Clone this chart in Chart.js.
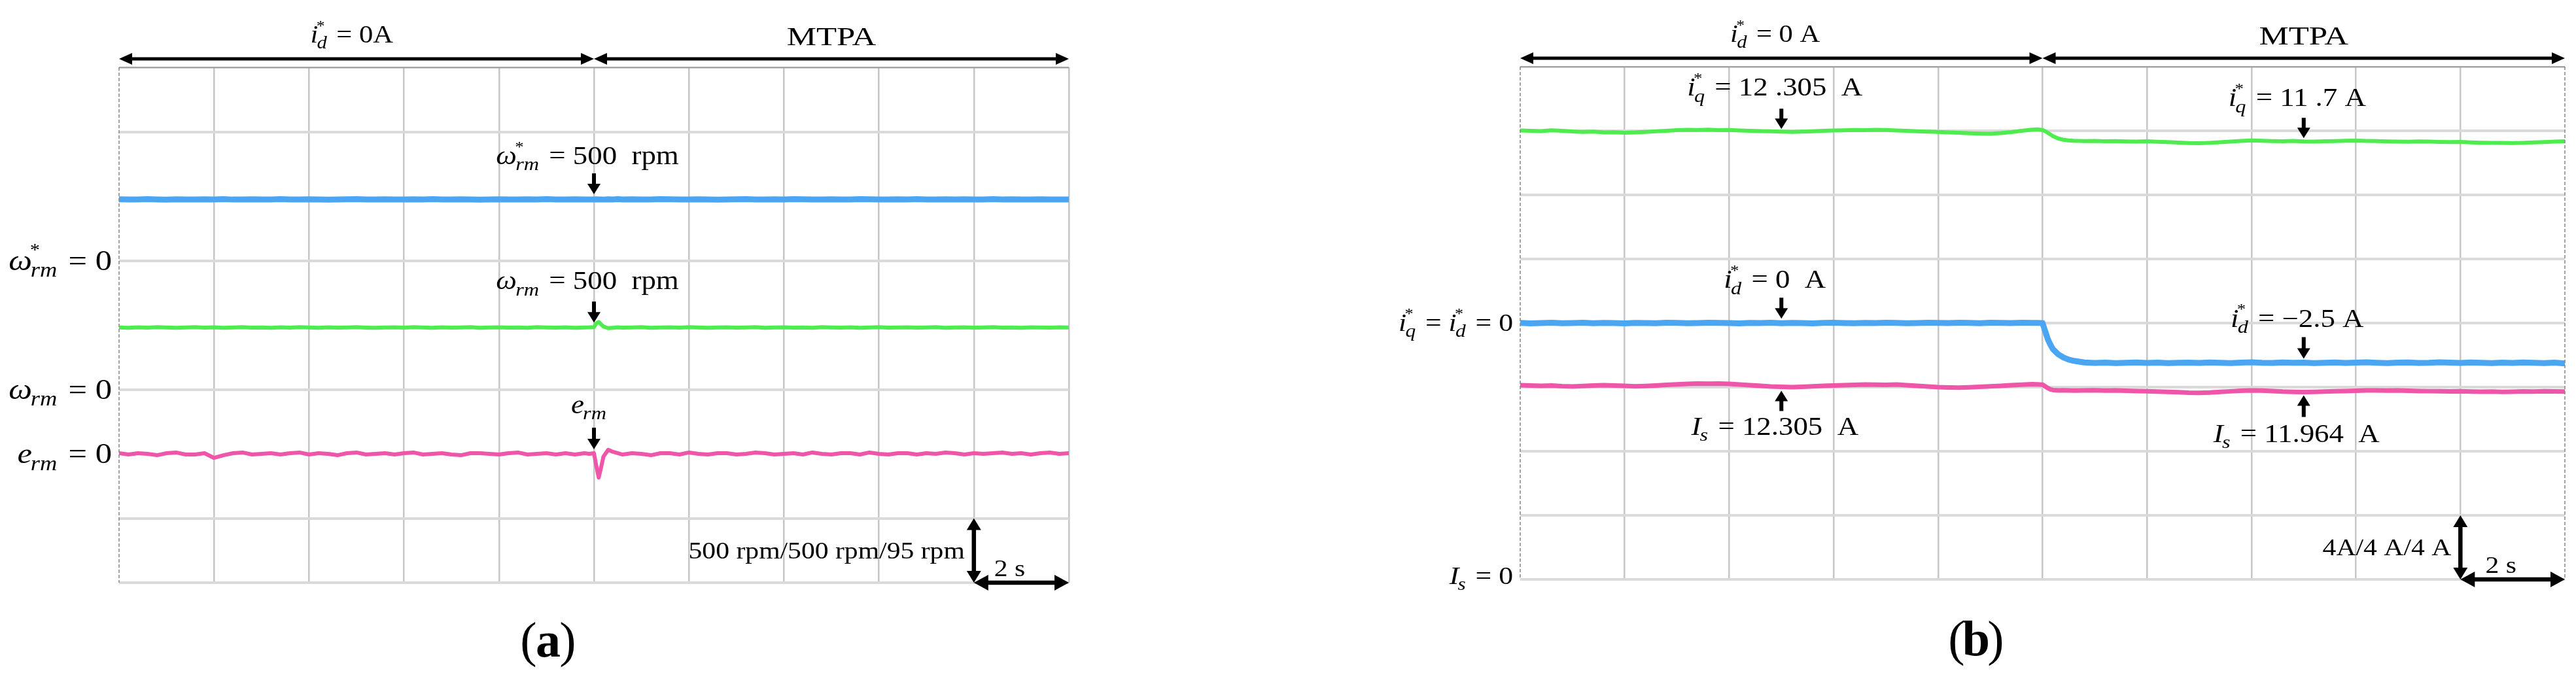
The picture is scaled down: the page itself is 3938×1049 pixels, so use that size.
<!DOCTYPE html>
<html>
<head>
<meta charset="utf-8">
<title>id* = 0 vs MTPA: speed and current traces</title>
<script src="https://cdn.jsdelivr.net/npm/chart.js@4.4.1/dist/chart.umd.min.js"></script>
<style>
  body { margin: 0; background: #fff; }
  #wrap { position: relative; width: 3938px; height: 1049px; overflow: hidden; }
  canvas { position: absolute; left: 0; top: 0; }
</style>
</head>
<body>
<div id="wrap">
  <canvas id="chartA" width="3938" height="1049"></canvas>
  <canvas id="chartB" width="3938" height="1049"></canvas>
</div>
<script>
// time base (s), scope set to 2 s/div, mode switch at 10 s
var t = [
  0, 0.2, 0.4, 0.6, 0.8, 1, 1.2, 1.4, 1.6, 1.8,
  2, 2.2, 2.4, 2.6, 2.8, 3, 3.2, 3.4, 3.6, 3.8,
  4, 4.2, 4.4, 4.6, 4.8, 5, 5.2, 5.4, 5.6, 5.8,
  6, 6.2, 6.4, 6.6, 6.8, 7, 7.2, 7.4, 7.6, 7.8,
  8, 8.2, 8.4, 8.6, 8.8, 9, 9.2, 9.4, 9.6, 9.8,
  9.9, 10, 10.05, 10.1, 10.15, 10.2, 10.3, 10.4, 10.5, 10.6,
  10.8, 11, 11.2, 11.4, 11.6, 11.8, 12, 12.2, 12.4, 12.6,
  12.8, 13, 13.2, 13.4, 13.6, 13.8, 14, 14.2, 14.4, 14.6,
  14.8, 15, 15.2, 15.4, 15.6, 15.8, 16, 16.2, 16.4, 16.6,
  16.8, 17, 17.2, 17.4, 17.6, 17.8, 18, 18.2, 18.4, 18.6,
  18.8, 19, 19.2, 19.4, 19.6, 19.8, 20
];

// (a) speed reference, rpm
var speedRef = [
  476, 474, 475, 477, 475, 473, 476, 475, 474, 476,
  475, 477, 474, 475, 476, 474, 475, 477, 475, 474,
  476, 475, 473, 475, 476, 477, 475, 474, 476, 475,
  474, 476, 475, 477, 475, 474, 476, 475, 473, 475,
  476, 475, 474, 476, 475, 477, 475, 474, 476, 475,
  475, 474, 476, 475, 475, 474, 476, 475, 477, 475,
  476, 474, 475, 477, 476, 474, 475, 476, 475, 473,
  475, 476, 477, 475, 474, 476, 475, 477, 476, 474,
  475, 476, 474, 475, 477, 476, 475, 474, 476, 475,
  477, 475, 474, 476, 475, 476, 474, 475, 477, 475,
  476, 474, 475, 476, 475, 474, 475
];
// (a) measured speed, rpm
var speedMeas = [
  481, 479, 482, 480, 483, 481, 478, 481, 483, 480,
  482, 479, 481, 484, 480, 481, 479, 482, 480, 483,
  481, 479, 482, 480, 481, 483, 480, 478, 481, 482,
  480, 483, 481, 479, 482, 480, 481, 483, 479, 481,
  482, 480, 481, 479, 483, 481, 480, 482, 479, 481,
  482, 484, 512, 524, 505, 488, 476, 479, 482, 480,
  481, 483, 479, 481, 482, 480, 483, 481, 478, 481,
  482, 480, 481, 483, 479, 481, 482, 480, 481, 479,
  483, 481, 480, 482, 479, 481, 483, 480, 481, 482,
  480, 481, 483, 479, 481, 482, 480, 481, 483, 480,
  481, 479, 482, 481, 480, 482, 481
];
// (a) speed error, rpm
var speedErr = [
  1, -1, 1, 0, -2, 1, 2, -1, -1, 1,
  -6, -2, 1, 2, -1, 0, 1, -1, 1, 2,
  -1, 1, 0, -2, 1, 2, -1, 0, 1, -1,
  1, 2, -1, 0, 1, -1, -2, 1, 1, 0,
  -1, 1, 2, -1, 0, 1, -1, 1, -1, 1,
  0, 1, -18, -35, -20, -4, 6, 3, 1, -1,
  1, 0, -2, 1, 1, -1, 2, 0, -1, 1,
  1, -1, 0, 2, 1, -1, 0, 1, -1, 2,
  0, -1, 1, 1, -1, 2, 0, -1, 1, 1,
  -1, 1, 0, 2, 1, -1, 1, 0, 1, 2,
  0, 1, -1, 1, 2, 0, 1
];

// (b) q-axis current reference, A
var iqRef = [
  12.02, 12.0, 11.98, 12.03, 12.0, 11.96, 11.93, 11.95, 11.9, 11.91,
  11.88, 11.9, 11.93, 11.97, 12.0, 12.04, 12.06, 12.05, 12.07, 12.04,
  12.05, 12.02, 12.0, 11.98, 11.97, 11.95, 11.93, 11.95, 11.97, 12.0,
  12.02, 12.03, 12.05, 12.04, 12.06, 12.05, 12.02, 12.0, 11.97, 11.95,
  11.93, 11.9, 11.88, 11.85, 11.83, 11.82, 11.86, 11.92, 12.0, 12.07,
  12.09, 12.05, 11.98, 11.88, 11.77, 11.66, 11.52, 11.44, 11.4, 11.38,
  11.36, 11.37, 11.35, 11.36, 11.34, 11.33, 11.35, 11.32, 11.3, 11.27,
  11.23, 11.22, 11.25, 11.29, 11.33, 11.37, 11.4, 11.38, 11.36, 11.35,
  11.37, 11.34, 11.33, 11.35, 11.36, 11.38, 11.39, 11.37, 11.36, 11.34,
  11.33, 11.32, 11.34, 11.33, 11.31, 11.3, 11.31, 11.28, 11.26, 11.25,
  11.24, 11.23, 11.25, 11.28, 11.3, 11.33, 11.35
];
// (b) d-axis current reference, A
var idRef = [
  0.01, -0.02, 0.0, 0.02, -0.01, 0.0, 0.02, -0.01, 0.01, 0.0,
  -0.02, 0.01, 0.0, -0.01, 0.02, 0.01, -0.01, 0.0, 0.02, 0.01,
  0.0, -0.02, 0.01, 0.0, 0.02, -0.01, 0.01, 0.0, -0.02, 0.01,
  0.02, 0.0, -0.01, 0.01, 0.0, 0.02, 0.01, -0.01, 0.0, 0.02,
  0.01, 0.0, 0.02, 0.01, -0.01, 0.02, 0.01, 0.0, 0.02, 0.01,
  0.01, 0.0, -0.5, -1.0, -1.35, -1.63, -1.95, -2.15, -2.28, -2.36,
  -2.46, -2.49, -2.47, -2.5, -2.48, -2.46, -2.49, -2.47, -2.5, -2.48,
  -2.47, -2.49, -2.46, -2.48, -2.5, -2.47, -2.45, -2.48, -2.49, -2.46,
  -2.48, -2.47, -2.5, -2.48, -2.46, -2.49, -2.47, -2.45, -2.48, -2.5,
  -2.47, -2.46, -2.49, -2.48, -2.45, -2.47, -2.49, -2.46, -2.48, -2.5,
  -2.47, -2.49, -2.46, -2.48, -2.5, -2.47, -2.52
];
// (b) stator current magnitude, A
var isMag = [
  12.12, 12.1, 12.08, 12.1, 12.06, 12.04, 12.07, 12.1, 12.12, 12.1,
  12.08, 12.05, 12.07, 12.1, 12.14, 12.17, 12.2, 12.22, 12.21, 12.22,
  12.2, 12.16, 12.12, 12.08, 12.04, 12.02, 12.0, 12.02, 12.05, 12.08,
  12.1, 12.12, 12.14, 12.16, 12.15, 12.14, 12.16, 12.12, 12.08, 12.04,
  12.0, 11.98, 11.97, 11.99, 12.02, 12.05, 12.08, 12.12, 12.15, 12.18,
  12.17, 12.15, 12.05, 11.94, 11.86, 11.82, 11.8, 11.81, 11.8, 11.79,
  11.8, 11.81, 11.79, 11.8, 11.78, 11.76, 11.74, 11.72, 11.7, 11.68,
  11.65, 11.64, 11.66, 11.7, 11.74, 11.78, 11.8, 11.79, 11.76, 11.72,
  11.7, 11.69, 11.7, 11.72, 11.74, 11.76, 11.78, 11.8, 11.8, 11.79,
  11.8, 11.78, 11.76, 11.75, 11.74, 11.73, 11.74, 11.72, 11.71, 11.72,
  11.7, 11.71, 11.73, 11.72, 11.74, 11.73, 11.72
];

var BLUE = '#4aa6f2', GREEN = '#4fec4f', PINK = '#ef55a8';
var SERIF = '"Liberation Serif", "Times New Roman", serif';
var SX = 1.15; // the figure's lettering is wider than Times

function pts(ys) {
  return t.map(function (x, i) { return { x: x, y: ys[i] }; });
}

function fontStr(size, it, bold) {
  return (it ? 'italic ' : '') + (bold ? 'bold ' : '') + size + 'px ' + SERIF;
}

// runs: plain strings, or {b, sup, sub} for an italic symbol with indices
function runWidth(ctx, r, size, bold) {
  if (typeof r === 'string') { ctx.font = fontStr(size, false, bold); return ctx.measureText(r).width; }
  ctx.font = fontStr(size, true);
  var w = ctx.measureText(r.b).width, ex = 0;
  if (r.sub) { ctx.font = fontStr(size * 0.72, true); ex = Math.max(ex, ctx.measureText(r.sub).width); }
  if (r.sup) { ctx.font = fontStr(size * 0.6); ex = Math.max(ex, ctx.measureText(r.sup).width); }
  return w + ex + size * 0.05;
}

function drawRuns(ctx, runs, x, y, size, align, sx, bold) {
  sx = sx || SX;
  var total = 0;
  runs.forEach(function (r) { total += runWidth(ctx, r, size, bold); });
  var cx = align === 'center' ? -total / 2 : align === 'right' ? -total : 0;
  ctx.save();
  ctx.translate(x, y);
  ctx.scale(sx, 1);
  ctx.fillStyle = '#000';
  ctx.textAlign = 'left';
  ctx.textBaseline = 'alphabetic';
  runs.forEach(function (r) {
    if (typeof r === 'string') {
      ctx.font = fontStr(size, false, bold);
      ctx.fillText(r, cx, 0);
      cx += ctx.measureText(r).width;
      return;
    }
    ctx.font = fontStr(size, true);
    ctx.fillText(r.b, cx, 0);
    var bw = ctx.measureText(r.b).width, ex = 0;
    if (r.sup) {
      ctx.font = fontStr(size * 0.6);
      ctx.fillText(r.sup, cx + bw - size * 0.06, -size * 0.5);
      ex = Math.max(ex, ctx.measureText(r.sup).width);
    }
    if (r.sub) {
      ctx.font = fontStr(size * 0.72, true);
      ctx.fillText(r.sub, cx + bw - size * 0.04, size * 0.24);
      ex = Math.max(ex, ctx.measureText(r.sub).width);
    }
    cx += bw + ex + size * 0.05;
  });
  ctx.restore();
}

function head(ctx, x, y, ang, len, half) {
  var c = Math.cos(ang), s = Math.sin(ang);
  ctx.beginPath();
  ctx.moveTo(x, y);
  ctx.lineTo(x - len * c + half * s, y - len * s - half * c);
  ctx.lineTo(x - len * c - half * s, y - len * s + half * c);
  ctx.closePath();
  ctx.fill();
}

function arrow(ctx, x1, y1, x2, y2, w, len, half, both) {
  var ang = Math.atan2(y2 - y1, x2 - x1), c = Math.cos(ang), s = Math.sin(ang);
  ctx.strokeStyle = '#000';
  ctx.fillStyle = '#000';
  ctx.lineWidth = w;
  ctx.lineCap = 'butt';
  ctx.beginPath();
  ctx.moveTo(both ? x1 + len * 0.6 * c : x1, both ? y1 + len * 0.6 * s : y1);
  ctx.lineTo(x2 - len * 0.6 * c, y2 - len * 0.6 * s);
  ctx.stroke();
  head(ctx, x2, y2, ang, len, half);
  if (both) head(ctx, x1, y1, ang + Math.PI, len, half);
}

function vline(ctx, x, y1, y2) {
  ctx.beginPath(); ctx.moveTo(x, y1); ctx.lineTo(x, y2); ctx.stroke();
}

// scope decorations: mode arrows, trace callouts, zero markers, scale bar
function scopePlugin(cfg) {
  return {
    id: 'scope' + cfg.name,
    afterDraw: function (chart) {
      var ctx = chart.ctx, a = chart.chartArea, sx = chart.scales.x, g = chart.scales.g;
      ctx.save();

      ctx.strokeStyle = '#8c8c8c';
      ctx.lineWidth = 1.6;
      ctx.setLineDash([5, 3]);
      cfg.dashedEdges.forEach(function (v) { vline(ctx, sx.getPixelForValue(v), a.top, a.bottom); });
      ctx.setLineDash([]);

      var mid = sx.getPixelForValue(10), ay = a.top - 13;
      arrow(ctx, a.left, ay, mid, ay, 5, 20, 9, true);
      arrow(ctx, mid, ay, a.right, ay, 5, 20, 9, true);
      drawRuns(ctx, cfg.leftMode, sx.getPixelForValue(cfg.leftModeAt), a.top - 38, 37, 'center');
      drawRuns(ctx, ['MTPA'], sx.getPixelForValue(15), a.top - 34, 41, 'center', 1.24);

      cfg.notes.forEach(function (n) {
        var x = sx.getPixelForValue(n.x);
        var yTrace = chart.scales[n.axis].getPixelForValue(n.series[t.indexOf(n.x)]);
        var tip = n.up ? yTrace + n.gap : yTrace - n.gap;
        var tail = n.up ? tip + n.len : tip - n.len;
        arrow(ctx, x, tail, x, tip, 6, 16, 10, false);
        drawRuns(ctx, n.text, x + n.dx, tip + n.dy, 39, 'center');
      });

      cfg.zeros.forEach(function (z) {
        var y = chart.scales[z.axis].getPixelForValue(0);
        drawRuns(ctx, z.text, a.left - 11, y + z.dy, cfg.zeroSize, 'right');
      });

      var x18 = sx.getPixelForValue(18), x20 = sx.getPixelForValue(20);
      arrow(ctx, x18, a.bottom, x18, g.getPixelForValue(1), 6.5, 18, 11, true);
      arrow(ctx, x18, a.bottom, x20, a.bottom, 6.5, 22, 12, true);
      drawRuns(ctx, [cfg.scaleText], x18 - 14, a.bottom - 37, 35, 'right', 1.19);
      drawRuns(ctx, ['2 s'], (x18 + x20) / 2 - 18, a.bottom - 10, 35, 'center', 1.19);

      drawRuns(ctx, [cfg.letter[0]], cfg.letterX - 30, cfg.letterY, 76, 'center', 1);
      drawRuns(ctx, [cfg.letter[1]], cfg.letterX, cfg.letterY, 76, 'center', 1, true);
      drawRuns(ctx, [cfg.letter[2]], cfg.letterX + 30, cfg.letterY, 76, 'center', 1);
      ctx.restore();
    }
  };
}

function gridX(edgeHidden) {
  return {
    type: 'linear', min: 0, max: 20,
    ticks: { display: false, stepSize: 2 },
    border: { display: false },
    grid: {
      drawTicks: false,
      lineWidth: 2.5,
      color: function (c) { return edgeHidden.indexOf(c.tick.value) >= 0 ? 'rgba(0,0,0,0)' : '#c6c6c6'; }
    }
  };
}

function gridY(rows) {
  return {
    type: 'linear', position: 'left', min: 0, max: 8,
    ticks: { display: false, stepSize: 1 },
    border: { display: false },
    afterBuildTicks: function (s) { s.ticks = rows.map(function (v) { return { value: v }; }); },
    grid: {
      drawTicks: false,
      lineWidth: function (c) { return c.tick.value === 8 ? 2.5 : 4; },
      color: function (c) { return c.tick.value === 8 ? '#a3a3a3' : '#dadada'; }
    }
  };
}

function channel(min, max) {
  return { type: 'linear', axis: 'y', display: false, min: min, max: max };
}

var baseOptions = function (pad) {
  return {
    responsive: false,
    animation: false,
    devicePixelRatio: 1,
    layout: { padding: pad },
    events: [],
    plugins: { legend: { display: false }, tooltip: { enabled: false } },
    elements: {
      point: { radius: 0 },
      line: { tension: 0, borderJoinStyle: 'round', borderCapStyle: 'round', fill: false }
    }
  };
};

// ---- (a) speed traces, 500 rpm/div, 500 rpm/div, 95 rpm/div
var optA = baseOptions({ left: 182, right: 3938 - 1634, top: 103, bottom: 1049 - 891 });
optA.scales = {
  x: gridX([0]),
  g: gridY([0, 1, 3, 5, 7, 8]),
  ws: channel(-2500, 1500),
  w: channel(-1500, 2500),
  e: channel(-190, 570)
};

new Chart(document.getElementById('chartA'), {
  type: 'line',
  data: {
    datasets: [
      { data: pts(speedRef), yAxisID: 'ws', borderColor: BLUE, borderWidth: 9 },
      { data: pts(speedMeas), yAxisID: 'w', borderColor: GREEN, borderWidth: 6 },
      { data: pts(speedErr), yAxisID: 'e', borderColor: PINK, borderWidth: 6 }
    ]
  },
  options: optA,
  plugins: [scopePlugin({
    name: 'A',
    dashedEdges: [0],
    leftMode: [{ b: 'i', sup: '*', sub: 'd' }, ' = 0A'],
    leftModeAt: 4.9,
    notes: [
      { x: 10, series: speedRef, axis: 'ws', gap: 8, len: 32, dx: -10, dy: -46,
        text: [{ b: 'ω', sup: '*', sub: 'rm' }, ' = 500  rpm'] },
      { x: 10, series: speedMeas, axis: 'w', gap: 7, len: 32, dx: -10, dy: -51,
        text: [{ b: 'ω', sub: 'rm' }, ' = 500  rpm'] },
      { x: 10, series: speedErr, axis: 'e', gap: 6, len: 33, dx: -6, dy: -55,
        text: [{ b: 'e', sub: 'rm' }] }
    ],
    zeroSize: 44,
    zeros: [
      { axis: 'ws', dy: 14, text: [{ b: 'ω', sup: '*', sub: 'rm' }, ' = 0'] },
      { axis: 'w', dy: 14, text: [{ b: 'ω', sub: 'rm' }, ' = 0'] },
      { axis: 'e', dy: 14, text: [{ b: 'e', sub: 'rm' }, ' = 0'] }
    ],
    scaleText: '500 rpm/500 rpm/95 rpm',
    letter: ['(', 'a', ')'],
    letterX: 838, letterY: 1004
  })]
});

// ---- (b) current traces, 4 A/div on all channels
var optB = baseOptions({ left: 2324, right: 3938 - 3921, top: 102, bottom: 1049 - 886 });
optB.scales = {
  x: gridX([0, 20]),
  g: gridY([0, 1, 2, 3, 4, 5, 6, 7, 8]),
  dq: channel(-16, 16),
  s: channel(0, 32)
};

new Chart(document.getElementById('chartB'), {
  type: 'line',
  data: {
    datasets: [
      { data: pts(iqRef), yAxisID: 'dq', borderColor: GREEN, borderWidth: 6 },
      { data: pts(idRef), yAxisID: 'dq', borderColor: BLUE, borderWidth: 9 },
      { data: pts(isMag), yAxisID: 's', borderColor: PINK, borderWidth: 7 }
    ]
  },
  options: optB,
  plugins: [scopePlugin({
    name: 'B',
    dashedEdges: [0, 20],
    leftMode: [{ b: 'i', sup: '*', sub: 'd' }, ' = 0 A'],
    leftModeAt: 4.88,
    notes: [
      { x: 5, series: iqRef, axis: 'dq', gap: 4, len: 31, dx: -10, dy: -51,
        text: [{ b: 'i', sup: '*', sub: 'q' }, ' = 12 .305  A'] },
      { x: 15, series: iqRef, axis: 'dq', gap: 5, len: 31, dx: -10, dy: -49,
        text: [{ b: 'i', sup: '*', sub: 'q' }, ' = 11 .7 A'] },
      { x: 5, series: idRef, axis: 'dq', gap: 7, len: 32, dx: -10, dy: -47,
        text: [{ b: 'i', sup: '*', sub: 'd' }, ' = 0  A'] },
      { x: 15, series: idRef, axis: 'dq', gap: 6, len: 33, dx: -10, dy: -49,
        text: [{ b: 'i', sup: '*', sub: 'd' }, ' = \u22122.5 A'] },
      { x: 5, series: isMag, axis: 's', up: true, gap: 6, len: 31, dx: -10, dy: 67,
        text: [{ b: 'I', sub: 's' }, ' = 12.305  A'] },
      { x: 15, series: isMag, axis: 's', up: true, gap: 5, len: 33, dx: -11, dy: 71,
        text: [{ b: 'I', sub: 's' }, ' = 11.964  A'] }
    ],
    zeroSize: 38,
    zeros: [
      { axis: 'dq', dy: 12, text: [{ b: 'i', sup: '*', sub: 'q' }, ' = ', { b: 'i', sup: '*', sub: 'd' }, ' = 0'] },
      { axis: 's', dy: 7, text: [{ b: 'I', sub: 's' }, ' = 0'] }
    ],
    scaleText: '4A/4 A/4 A',
    letter: ['(', 'b', ')'],
    letterX: 3021, letterY: 1002
  })]
});
</script>
</body>
</html>
